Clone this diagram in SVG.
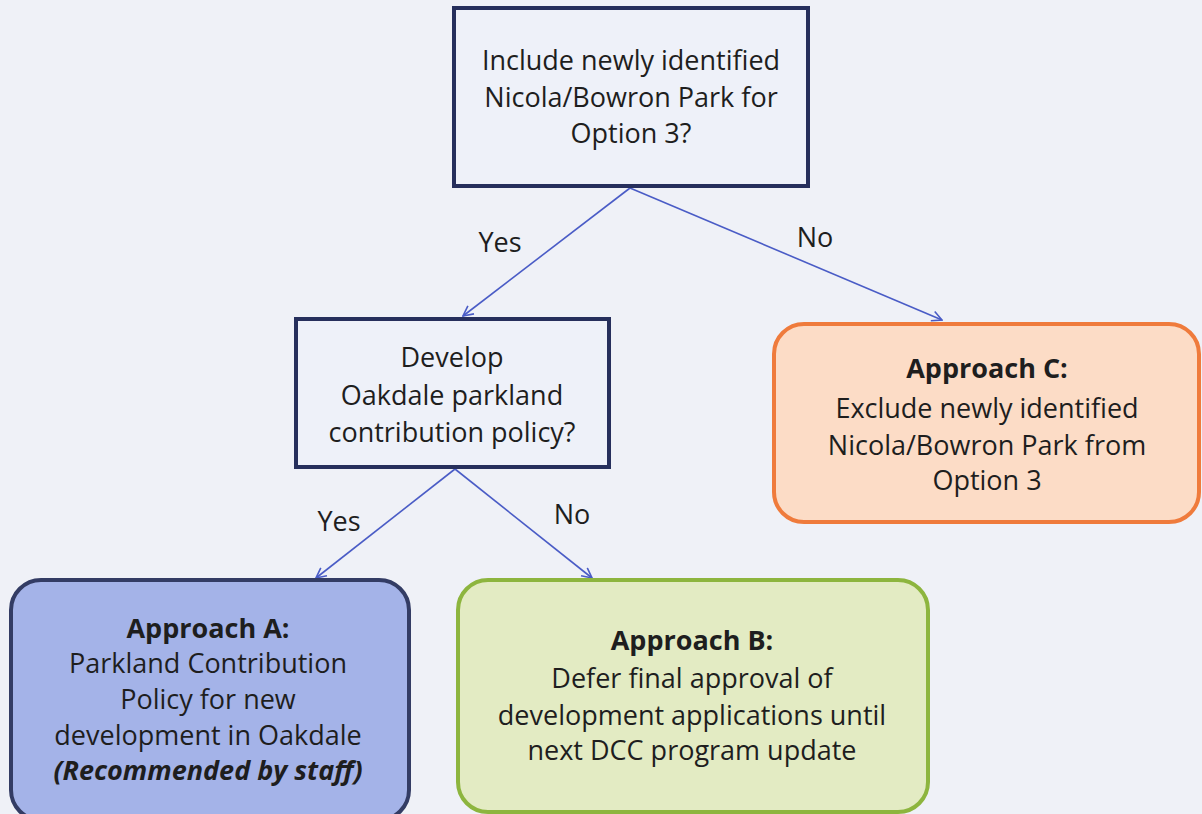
<svg xmlns="http://www.w3.org/2000/svg" width="1202" height="814" viewBox="0 0 1202 814">
<style>
text{font-family:"Open Sans","Noto Sans","Liberation Sans",sans-serif;font-size:27px;fill:#1e1e1e;text-anchor:middle}
.b{font-weight:bold}
.bi{font-weight:bold;font-style:italic}
.q{fill:#eef1f9;stroke:#262f5c;stroke-width:4}
.c{fill:none;stroke:#4a5cc6;stroke-width:1.6}
</style>
<defs>
<marker id="ah" viewBox="0 0 12 12" refX="11" refY="6" markerWidth="12" markerHeight="12" markerUnits="userSpaceOnUse" orient="auto">
<path d="M1,1 L11,6 L1,11" fill="none" stroke="#4a5cc6" stroke-width="1.6"/>
</marker>
</defs>
<rect width="1202" height="814" fill="#eff1f7"/>
<g id="connectors">
<line class="c" x1="630" y1="188" x2="463" y2="316" marker-end="url(#ah)"/>
<line class="c" x1="630" y1="188" x2="942" y2="320" marker-end="url(#ah)"/>
<line class="c" x1="455" y1="469" x2="316" y2="578" marker-end="url(#ah)"/>
<line class="c" x1="455" y1="469" x2="592" y2="578" marker-end="url(#ah)"/>
<text x="500" y="252">Yes</text>
<text x="815" y="247">No</text>
<text x="339" y="531">Yes</text>
<text x="572" y="524">No</text>
</g>
<g id="q1">
<rect class="q" x="454" y="8" width="354" height="178"/>
<text x="631" y="70">Include newly identified</text>
<text x="631" y="107">Nicola/Bowron Park for</text>
<text x="631" y="143">Option 3?</text>
</g>
<g id="q2">
<rect class="q" x="296" y="319" width="313" height="148"/>
<text x="452" y="367">Develop</text>
<text x="452" y="405">Oakdale parkland</text>
<text x="452" y="442">contribution policy?</text>
</g>
<g id="approachC">
<rect x="774" y="324" width="425" height="198" rx="30" fill="#fcdcc6" stroke="#ef7b3c" stroke-width="4"/>
<text class="b" x="987" y="378">Approach C:</text>
<text x="987" y="418">Exclude newly identified</text>
<text x="987" y="455">Nicola/Bowron Park from</text>
<text x="987" y="490">Option 3</text>
</g>
<g id="approachA">
<rect x="11" y="580" width="398" height="240" rx="30" fill="#a4b3e8" stroke="#333c64" stroke-width="4"/>
<text class="b" x="208" y="638">Approach A:</text>
<text x="208" y="673">Parkland Contribution</text>
<text x="208" y="709">Policy for new</text>
<text x="208" y="745">development in Oakdale</text>
<text class="bi" x="208" y="780">(Recommended by staff)</text>
</g>
<g id="approachB">
<rect x="458" y="580" width="470" height="232" rx="30" fill="#e3ebc3" stroke="#8db53e" stroke-width="4"/>
<text class="b" x="692" y="650">Approach B:</text>
<text x="692" y="688">Defer final approval of</text>
<text x="692" y="725">development applications until</text>
<text x="692" y="760">next DCC program update</text>
</g>
</svg>
